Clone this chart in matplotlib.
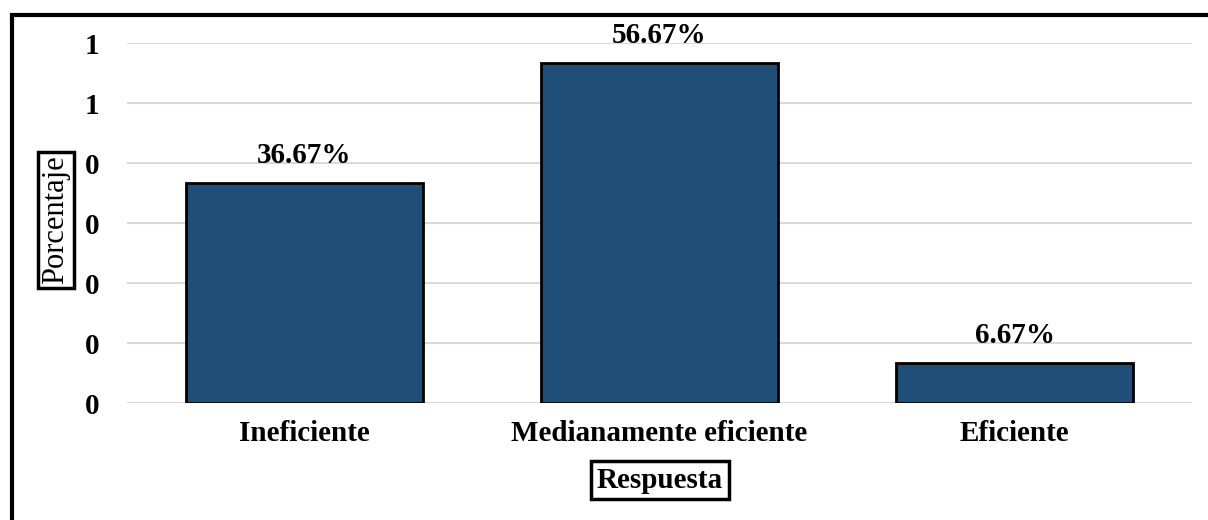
import matplotlib.pyplot as plt
from matplotlib.patches import Rectangle

# data
categorias = ["Ineficiente", "Medianamente eficiente", "Eficiente"]
valores = [0.3667, 0.5667, 0.0667]
etiquetas = ["36.67%", "56.67%", "6.67%"]
yticks = [0.0, 0.1, 0.2, 0.3, 0.4, 0.5, 0.6]
ytick_labels = ["0", "0", "0", "0", "0", "1", "1"]

plt.rcParams['font.family'] = ['Liberation Serif', 'DejaVu Serif']

fig = plt.figure(figsize=(12.08, 5.2), dpi=100)
W, H = 1208.0, 520.0
ax = fig.add_axes([127 / W, 1 - 403 / H, (1192 - 127) / W, 360 / H])

x = range(len(categorias))
ax.bar(x, valores, width=0.667, color="#1F4E79", edgecolor="black", linewidth=2, zorder=3)
for i, v in enumerate(valores):
    ax.text(i, v + 0.024, etiquetas[i], ha="center", va="bottom",
            fontsize=21, fontweight="bold", zorder=4)

ax.set_xlim(-0.5, 2.5)
ax.set_ylim(0, 0.6)
ax.set_yticks(yticks)
ax.set_yticklabels(ytick_labels, fontsize=21, fontweight="bold")
ax.set_xticks(list(x))
ax.set_xticklabels(categorias, fontsize=21, fontweight="bold")
ax.tick_params(length=0, pad=20, axis="y")
ax.tick_params(length=0, pad=12, axis="x")
ax.grid(axis="y", color="#D9D9D9", linewidth=1.5, zorder=0)
ax.set_axisbelow(True)
for s in ax.spines.values():
    s.set_visible(False)

box = dict(boxstyle="square,pad=0.12", facecolor="white", edgecolor="black", linewidth=2.5)
fig.text(56 / W, 1 - 220 / H, "Porcentaje", rotation=90, ha="center", va="center",
         fontsize=22, bbox=box)
box2 = dict(boxstyle="square,pad=0.2", facecolor="white", edgecolor="black", linewidth=2.5)
fig.text(660 / W, 1 - 480 / H, "Respuesta", ha="center", va="center",
         fontsize=21, fontweight="bold", bbox=box2)

# marco exterior
fig.patches.append(Rectangle((12 / W, -0.1), 1.2, 1 - 15 / H + 0.1, transform=fig.transFigure,
                             fill=False, edgecolor="black", linewidth=3))

fig.savefig("out.png", dpi=100)
